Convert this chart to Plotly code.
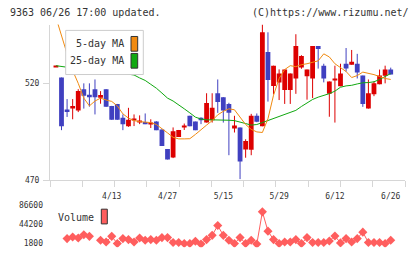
import plotly.graph_objects as go

# ---------------- data ----------------
idx = list(range(-1, 60))
date_tick_idx = [9, 19, 29, 39, 49, 59]
date_tick_txt = ["4/13", "4/27", "5/15", "5/29", "6/12", "6/26"]

open_ = [528.5, 523.0, 506.5, 507.0, 506.0, 517.0, 514.1, 517.0, 512.6, 517.0,
         508.4, 509.4, 502.3, 497.9, 501.0, 500.3, 500.1, 499.0, 500.3, 496.3,
         486.2, 481.8, 492.4, 497.5, 503.3, 500.3, 502.3, 499.8, 501.0, 514.9,
         512.9, 509.4, 496.8, 497.3, 486.0, 485.8, 503.3, 497.9, 536.2, 518.6,
         520.4, 516.6, 516.6, 522.5, 528.2, 523.7, 522.5, 539.2, 529.1, 514.6,
         521.8, 518.5, 530.1, 529.6, 530.1, 524.0, 507.0, 514.4, 519.5, 523.9, 527.1]
high = [529.0, 523.0, 511.9, 511.9, 517.0, 520.0, 520.0, 522.0, 516.0, 517.0,
        508.4, 509.4, 504.0, 507.4, 504.0, 503.5, 504.5, 501.5, 500.5, 496.3,
        486.2, 497.3, 496.0, 499.3, 503.3, 500.3, 502.5, 514.9, 514.9, 522.0,
        512.9, 510.0, 503.3, 497.3, 491.2, 504.3, 504.5, 550.3, 546.3, 529.1,
        527.2, 527.1, 525.1, 545.3, 534.5, 527.1, 539.2, 539.2, 530.1, 521.0,
        529.1, 530.1, 538.2, 537.2, 535.2, 524.0, 522.0, 521.0, 527.1, 529.1, 528.1]
low = [528.5, 495.9, 502.7, 501.5, 505.2, 507.0, 508.0, 504.0, 509.5, 507.9,
       501.2, 501.2, 495.9, 497.6, 498.0, 499.0, 499.0, 497.0, 495.9, 487.8,
       480.8, 481.5, 492.4, 496.0, 497.9, 495.9, 499.0, 499.8, 499.8, 504.8,
       499.8, 483.0, 494.7, 470.7, 481.7, 483.0, 500.0, 497.9, 510.6, 514.4,
       511.4, 509.4, 509.4, 514.6, 527.5, 511.6, 512.4, 527.6, 520.5, 502.8,
       499.8, 518.5, 526.0, 529.6, 522.5, 507.9, 507.0, 513.4, 519.5, 520.0, 524.5]
close = [529.0, 497.9, 505.2, 508.4, 516.1, 513.6, 512.9, 512.8, 514.0, 508.0,
         501.2, 501.3, 498.9, 501.3, 501.5, 500.8, 499.0, 499.5, 495.9, 487.8,
         480.8, 495.3, 496.0, 497.9, 497.9, 495.9, 501.0, 509.9, 507.4, 510.4,
         506.0, 504.8, 498.3, 479.8, 490.3, 503.3, 500.2, 546.3, 521.7, 529.1,
         525.1, 527.1, 525.1, 539.2, 534.1, 527.1, 539.2, 537.7, 522.5, 521.0,
         522.0, 525.1, 527.6, 531.1, 525.6, 509.4, 514.9, 520.0, 524.0, 527.1, 524.5]

ma5 = [554.0, 544.2, 535.2, 526.6, 520.0, 512.4, 508.4, 510.9, 512.4, 511.4,
       510.7, 508.4, 504.3, 502.1, 500.8, 500.3, 500.1, 499.8, 498.8, 496.8,
       494.5, 492.2, 491.4, 491.4, 491.5, 493.7, 496.3, 498.5, 500.8, 503.8,
       505.6, 506.9, 506.4, 502.8, 498.8, 496.3, 495.0, 494.7, 501.8, 513.9,
       522.5, 527.1, 529.1, 528.6, 529.6, 530.1, 530.9, 531.6, 535.2, 533.6,
       530.1, 528.1, 526.1, 523.0, 524.0, 525.8, 525.3, 524.5, 523.5, 522.5, 522.0]
ma25 = [529.1, 528.6, 528.3, 528.0, 527.8, 527.6, 527.3, 527.0, 526.7, 526.4,
        526.0, 525.6, 525.2, 524.8, 524.3, 522.8, 521.5, 519.5, 517.5, 515.0,
        512.4, 510.9, 509.1, 506.9, 504.8, 502.6, 501.6, 501.2, 501.2, 501.2,
        501.1, 501.0, 500.8, 500.2, 499.3, 498.5, 498.8, 499.8, 500.8, 502.1,
        502.8, 503.8, 504.8, 506.1, 508.1, 509.9, 511.7, 512.9, 513.7, 514.7,
        516.0, 518.0, 518.7, 519.0, 519.7, 520.3, 520.4, 520.8, 522.0, 523.5, 525.05]

volume = [None, None, 12670, 16150, 13970, 21370, 17670, None, 8970, 5280,
          17670, 1800, 12670, 10500, 5280, 13970, 8970, 10500, 8970, 14840,
          14840, 3970, 3970, 1800, 1800, 6800, 500, 10500, 19840, 41580,
          19840, 8970, 1800, 14840, 1800, 8970, 500, 72020, 29190, 10500,
          1800, 5280, 5280, 10500, 1800, 14840, 3970, 3970, 3970, 7450,
          18320, 3100, 12670, 5280, 12670, 27020, 3970, 3970, 3970, 1800, 8970]

price_ticks = [470, 520]
vol_ticks = [1800, 44200, 86600]

for arr in (open_, high, low, close, ma5, ma25, volume):
    assert len(arr) == len(idx)

# ---------------- styling ----------------
W, H = 420, 259
RED = "#DD0000"
BLUE = "#4040C0"
ORANGE = "#F08A10"
GREEN = "#10A810"
VOLC = "#FF5E5E"
AX = "#d6d6d6"
TXT = "#333333"
FONT = "DejaVu Sans Mono"


def px(x):
    return x / W


def py(y):
    return 1 - y / H


fig = go.Figure()

# wicks
for col, up in ((RED, True), (BLUE, False)):
    wx, wy = [], []
    for i, o, h, l, c in zip(idx, open_, high, low, close):
        if (c >= o) == up:
            wx += [i, i, None]
            wy += [l, h, None]
    fig.add_trace(go.Scatter(x=wx, y=wy, mode="lines", line=dict(color=col, width=1),
                             hoverinfo="skip", showlegend=False))

# bodies
for col, up in ((RED, True), (BLUE, False)):
    bx, bb, bh = [], [], []
    for i, o, c in zip(idx, open_, close):
        if (c >= o) == up:
            bx.append(i)
            bb.append(min(o, c))
            bh.append(max(abs(c - o), 0.5))
    fig.add_trace(go.Bar(x=bx, y=bh, base=bb, width=0.86, marker=dict(color=col, line=dict(width=0)),
                         showlegend=False, hoverinfo="skip"))

# moving averages
fig.add_trace(go.Scatter(x=idx, y=ma25, mode="lines", line=dict(color=GREEN, width=1),
                         showlegend=False, hoverinfo="skip"))
fig.add_trace(go.Scatter(x=idx, y=ma5, mode="lines", line=dict(color=ORANGE, width=1),
                         showlegend=False, hoverinfo="skip"))

# volume
fig.add_trace(go.Scatter(x=idx, y=volume, mode="lines+markers", xaxis="x2", yaxis="y2",
                         line=dict(color=VOLC, width=1), connectgaps=False,
                         marker=dict(symbol="diamond", size=7, color=VOLC),
                         showlegend=False, hoverinfo="skip"))

# grid-tick overlay axis
fig.add_trace(go.Scatter(x=[None], y=[None], xaxis="x3", yaxis="y", showlegend=False, hoverinfo="skip"))

x_dom = [px(50), px(405)]
x_rng = [-2.061, 61.56]

fig.update_layout(
    width=W, height=H,
    margin=dict(l=0, r=0, t=0, b=0),
    paper_bgcolor="white", plot_bgcolor="white",
    barmode="overlay",
    font=dict(family=FONT, size=8, color=TXT),
    xaxis=dict(domain=x_dom, range=x_rng, anchor="y",
               tickvals=date_tick_idx, ticktext=date_tick_txt,
               ticks="outside", ticklen=8, tickcolor="rgba(0,0,0,0)",
               showgrid=False, zeroline=False, showline=True, linecolor=AX, linewidth=1,
               tickfont=dict(family=FONT, size=8, color=TXT)),
    yaxis=dict(domain=[py(184), py(25)], range=[470, 550.3],
               tickvals=price_ticks, ticktext=[str(v) for v in price_ticks],
               ticks="outside", ticklen=6, tickcolor=AX,
               showgrid=False, zeroline=False, showline=True, linecolor=AX, linewidth=1,
               ticklabelstandoff=2,
               tickfont=dict(family=FONT, size=8, color=TXT)),
    xaxis3=dict(overlaying="x", anchor="y", side="bottom", range=[0, 11],
                tickvals=list(range(12)), showticklabels=False,
                ticks="outside", ticklen=6, tickcolor=AX,
                showgrid=False, zeroline=False, showline=False),
    xaxis2=dict(domain=x_dom, range=x_rng, anchor="y2", visible=False),
    yaxis2=dict(domain=[py(252), py(205)], range=[-6244, 95948],
                tickvals=vol_ticks, ticktext=[str(v) for v in vol_ticks],
                ticks="", showgrid=False, zeroline=False, showline=False,
                ticklabelstandoff=6,
                tickfont=dict(family=FONT, size=8, color=TXT)),
)

shapes = []
annotations = []

# header texts
annotations.append(dict(text="9363 06/26 17:00 updated.", x=px(8), y=py(12.7), xref="paper", yref="paper",
                        xanchor="left", yanchor="middle", showarrow=False,
                        font=dict(family=FONT, size=10, color=TXT)))
annotations.append(dict(text="(C)https://www.rizumu.net/", x=px(411), y=py(12.7), xref="paper", yref="paper",
                        xanchor="right", yanchor="middle", showarrow=False,
                        font=dict(family=FONT, size=10, color=TXT)))

# price legend box
shapes.append(dict(type="rect", xref="paper", yref="paper", x0=px(65.7), x1=px(143.3), y0=py(76), y1=py(31),
                   fillcolor="white", line=dict(color="#cccccc", width=1), layer="above"))
for label, col, yc in (("5-day MA", ORANGE, 44.7), ("25-day MA", GREEN, 62.0)):
    annotations.append(dict(text=label, x=px(126), y=py(yc), xref="paper", yref="paper",
                            xanchor="right", yanchor="middle", showarrow=False,
                            font=dict(family=FONT, size=10, color=TXT)))
    shapes.append(dict(type="rect", xref="paper", yref="paper", x0=px(131), x1=px(137.7),
                       y0=py(yc + 7.5), y1=py(yc - 7.5), fillcolor=col,
                       line=dict(color="#333333", width=1), layer="above"))

# volume legend
annotations.append(dict(text="Volume", x=px(96), y=py(221.5), xref="paper", yref="paper",
                        xanchor="right", yanchor="middle", showarrow=False,
                        font=dict(family=FONT, size=10, color=TXT)))
shapes.append(dict(type="rect", xref="paper", yref="paper", x0=px(101.3), x1=px(107.3),
                   y0=py(228.3), y1=py(213.3), fillcolor=VOLC,
                   line=dict(color="#333333", width=1), layer="above"))

fig.update_layout(shapes=shapes, annotations=annotations)

fig.write_html("out.html")
